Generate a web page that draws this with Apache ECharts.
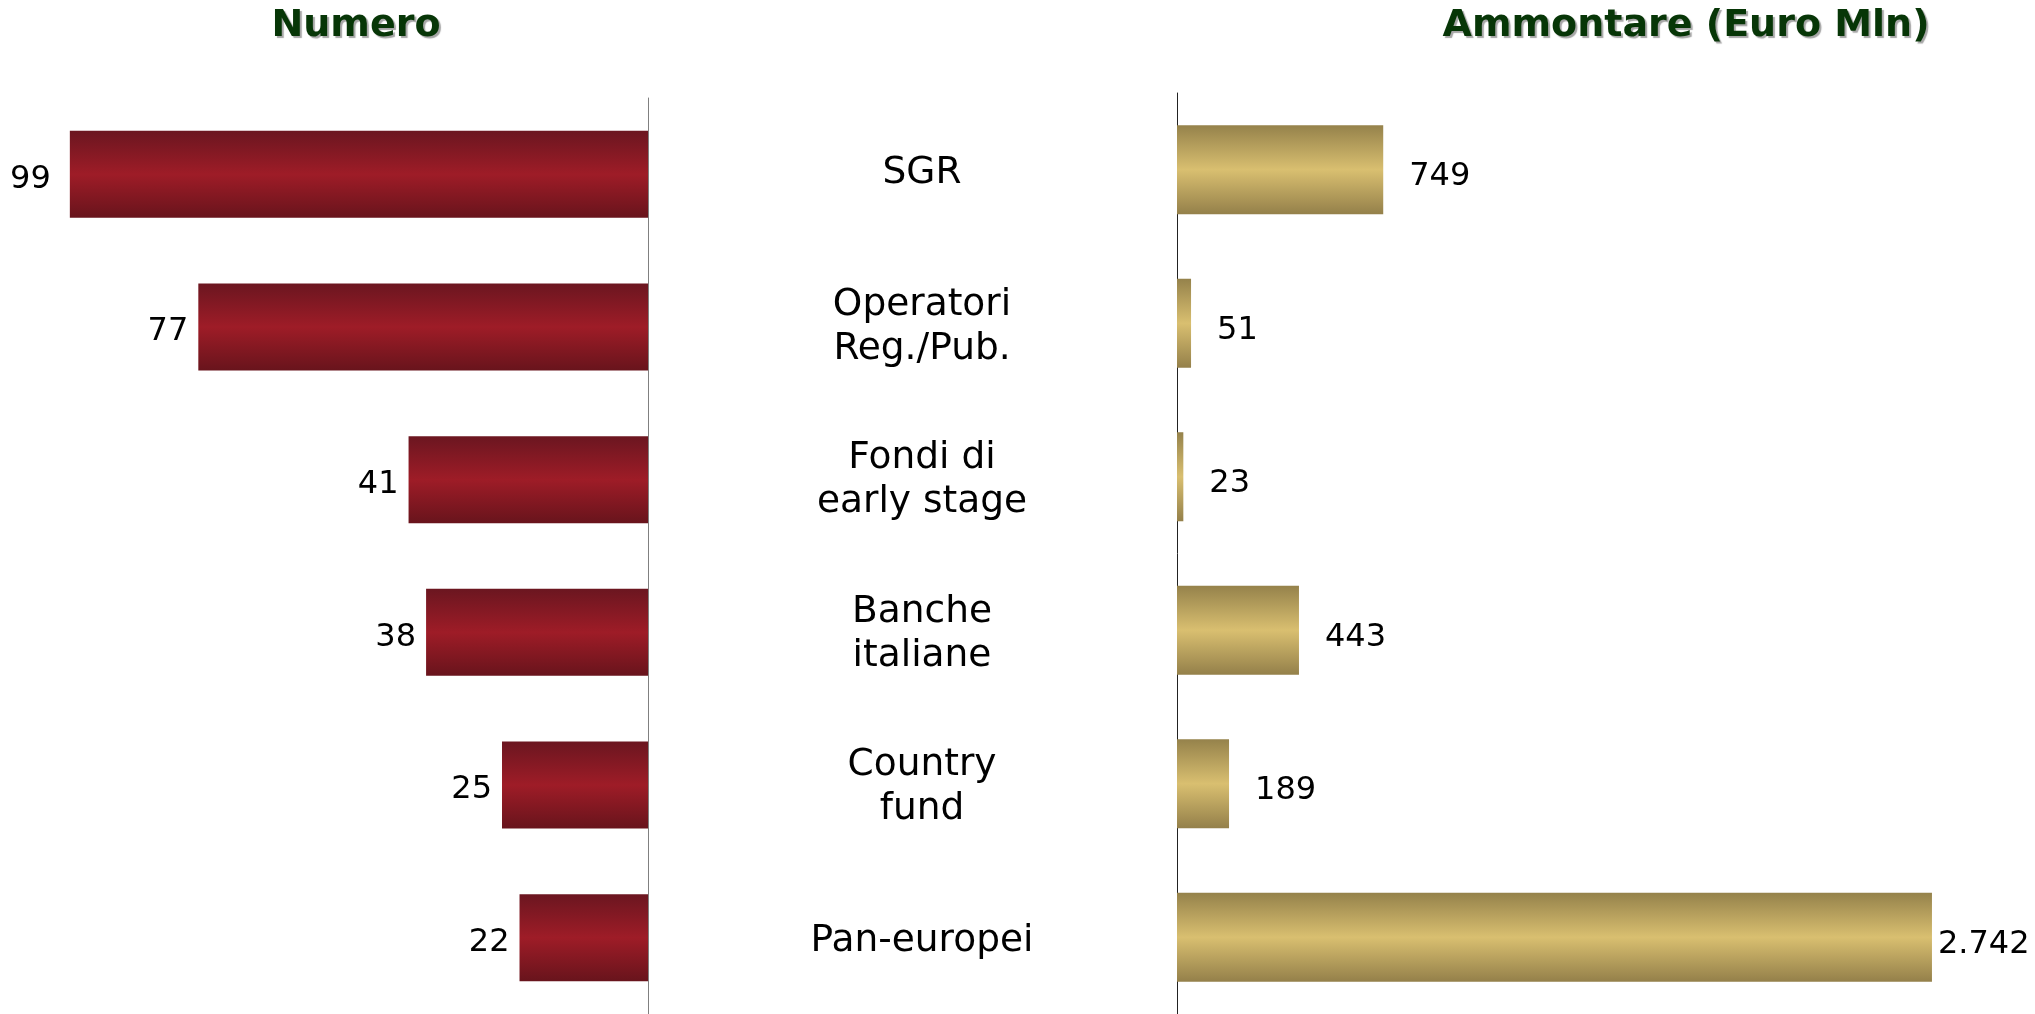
<!DOCTYPE html>
<html>
<head>
<meta charset="utf-8">
<title>Numero / Ammontare</title>
<script src="https://cdn.jsdelivr.net/npm/echarts@6/dist/echarts.min.js"></script>
<style>
  html, body { margin: 0; padding: 0; background: #fff; }
  #chart { width: 2035px; height: 1014px; }
</style>
</head>
<body>
<div id="chart"></div>
<script>
// categorie (testo su due righe come nell'originale)
const categories = ['SGR', 'Operatori\nReg./Pub.', 'Fondi di\nearly stage', 'Banche\nitaliane', 'Country\nfund', 'Pan-europei'];
const numero = [99, 77, 41, 38, 25, 22];
const ammontare = [749, 51, 23, 443, 189, 2742];

const FONT = 'DejaVu Sans';

const redGrad = new echarts.graphic.LinearGradient(0, 0, 0, 1, [
  { offset: 0, color: '#6b1620' },
  { offset: 0.5, color: '#9e1c27' },
  { offset: 1, color: '#68141c' }
]);
const goldGrad = new echarts.graphic.LinearGradient(0, 0, 0, 1, [
  { offset: 0, color: '#95824b' },
  { offset: 0.5, color: '#d9bf70' },
  { offset: 1, color: '#94804a' }
]);

// formato italiano: 2742 -> 2.742
function fmt(v) {
  return String(v).replace(/\B(?=(\d{3})+(?!\d))/g, '.');
}

const titleStyle = {
  fontFamily: FONT, fontSize: 38, fontWeight: 'bold', color: '#073607',
  textShadowColor: 'rgba(0,0,0,0.35)', textShadowOffsetX: 2, textShadowOffsetY: 2, textShadowBlur: 1
};

const chart = echarts.init(document.getElementById('chart'));

chart.setOption({
  animation: false,
  backgroundColor: '#fff',
  title: [
    { text: 'Numero', left: 351, top: 2, textAlign: 'center', textStyle: titleStyle },
    { text: 'Ammontare (Euro Mln)', left: 1681, top: 2, textAlign: 'center', textStyle: titleStyle }
  ],
  grid: [
    { left: 64, width: 584, top: 98, bottom: 0 },
    { left: 1177, right: 32, top: 93, bottom: 0 }
  ],
  xAxis: [
    { gridIndex: 0, type: 'value', min: 0, max: 100, inverse: true, show: false },
    { gridIndex: 1, type: 'value', min: 0, max: 3000, show: false }
  ],
  yAxis: [
    {
      gridIndex: 0,
      type: 'category',
      data: categories,
      inverse: true,
      position: 'right',
      axisLine: { lineStyle: { color: '#808080', width: 1 } },
      axisTick: { show: false },
      axisLabel: { show: false }
    },
    {
      gridIndex: 1,
      type: 'category',
      data: categories,
      inverse: true,
      position: 'left',
      axisLine: { lineStyle: { color: '#222', width: 1 } },
      axisTick: { show: false },
      axisLabel: {
        align: 'center',
        margin: 255,
        // ogni riga in uno stile rich, per spostare il testo un po' in basso
        formatter: v => v.split('\n').map(s => '{c|' + s + '}').join('\n'),
        rich: {
          c: {
            fontFamily: FONT,
            fontSize: 37.5,
            lineHeight: 44,
            padding: [8, 0, 0, 0],
            color: '#000'
          }
        }
      }
    }
  ],
  series: [
    {
      type: 'bar',
      name: 'Numero',
      xAxisIndex: 0,
      yAxisIndex: 0,
      barWidth: '57%',
      data: numero.map((v, i) => ({
        value: v,
        label: { distance: i === 0 ? 19 : 10 }
      })),
      itemStyle: { color: redGrad },
      label: {
        show: true,
        position: 'left',
        offset: [0, 5],
        fontFamily: FONT,
        fontSize: 32,
        color: '#000'
      }
    },
    {
      type: 'bar',
      name: 'Ammontare',
      xAxisIndex: 1,
      yAxisIndex: 1,
      barWidth: '58%',
      data: ammontare.map((v, i) => ({
        value: v,
        label: { distance: i === ammontare.length - 1 ? 6 : 26 }
      })),
      itemStyle: { color: goldGrad },
      label: {
        show: true,
        position: 'right',
        offset: [0, 7],
        fontFamily: FONT,
        fontSize: 32,
        color: '#000',
        formatter: p => fmt(p.value)
      }
    }
  ]
});
</script>
</body>
</html>
